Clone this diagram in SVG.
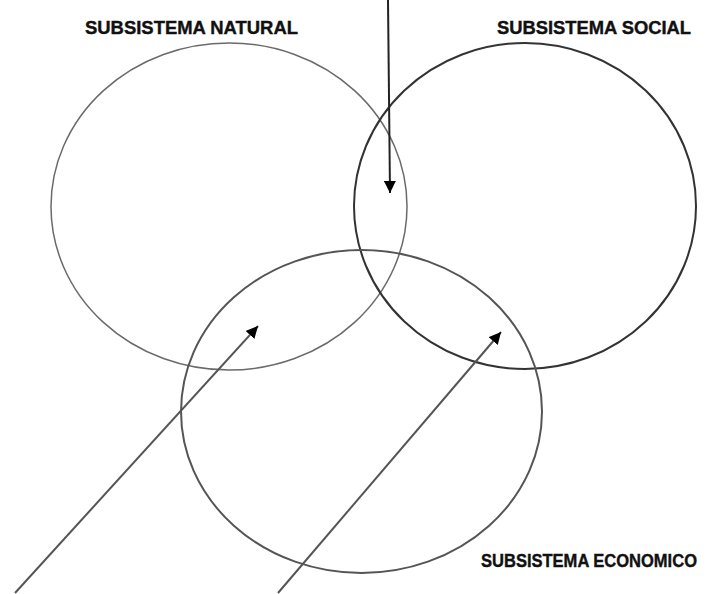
<svg xmlns="http://www.w3.org/2000/svg" width="709" height="594" viewBox="0 0 709 594">
<defs>
<style>
.lbl{font-family:"Liberation Sans",Arial,sans-serif;font-weight:bold;font-size:19px;fill:#111;stroke:#111;stroke-width:0.4}
.ell{fill:none}
.con{fill:none;stroke-width:2}
</style>
<marker id="ah" viewBox="0 0 10 10" refX="10" refY="5" markerWidth="6" markerHeight="6" orient="auto" markerUnits="strokeWidth">
<path d="M0,0 L10,5 L0,10 z" fill="#000"/>
</marker>
</defs>
<rect width="709" height="594" fill="#fff"/>
<g id="natural">
<ellipse class="ell" cx="229" cy="206.5" rx="178" ry="163.5" stroke="#6a6a6a" stroke-width="1.5"/>
<text class="lbl" x="85" y="34" textLength="213" lengthAdjust="spacingAndGlyphs">SUBSISTEMA NATURAL</text>
</g>
<g id="social">
<ellipse class="ell" cx="525" cy="206" rx="171" ry="163" stroke="#333" stroke-width="2"/>
<text class="lbl" x="497" y="34" textLength="194" lengthAdjust="spacingAndGlyphs">SUBSISTEMA SOCIAL</text>
</g>
<g id="economico">
<ellipse class="ell" cx="361.5" cy="411.5" rx="180.5" ry="161.5" stroke="#555" stroke-width="2"/>
<text class="lbl" transform="translate(481,567) scale(0.87,1)" x="0" y="0">SUBSISTEMA ECONOMICO</text>
</g>
<g id="connectors">
<line class="con" x1="388" y1="0" x2="390" y2="193" stroke="#222" marker-end="url(#ah)"/>
<line class="con" x1="15" y1="593" x2="258" y2="326" stroke="#555" marker-end="url(#ah)"/>
<line class="con" x1="278" y1="593" x2="501" y2="332" stroke="#555" marker-end="url(#ah)"/>
</g>
</svg>
